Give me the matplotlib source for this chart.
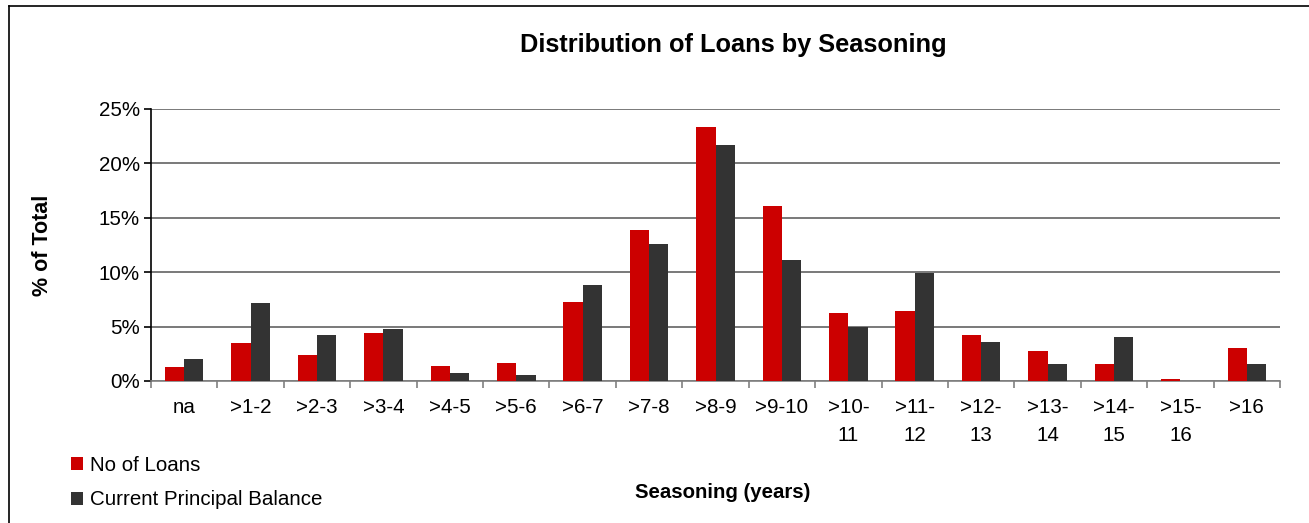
import numpy as np
import matplotlib.pyplot as plt
from matplotlib.ticker import PercentFormatter
from matplotlib.lines import Line2D

plt.rcParams['font.family'] = ['Liberation Sans', 'DejaVu Sans']

categories = ["na", ">1-2", ">2-3", ">3-4", ">4-5", ">5-6", ">6-7", ">7-8", ">8-9",
              ">9-10", ">10-\n11", ">11-\n12", ">12-\n13", ">13-\n14", ">14-\n15",
              ">15-\n16", ">16"]
no_of_loans = [1.29, 3.49, 2.39, 4.41, 1.38, 1.65, 7.26, 13.88, 23.35,
               16.08, 6.25, 6.43, 4.23, 2.76, 1.56, 0.18, 3.03]
principal_balance = [2.02, 7.17, 4.23, 4.78, 0.74, 0.55, 8.82, 12.59, 21.69,
                     11.12, 4.96, 9.93, 3.58, 1.56, 4.04, 0.03, 1.56]

W, H = 1309, 523
fig = plt.figure(figsize=(W / 100, H / 100), dpi=100)
ax = fig.add_axes([151 / W, 1 - 381 / H, 1129 / W, 272 / H])

x = np.arange(len(categories))
bw = 0.29
ax.bar(x - bw / 2, no_of_loans, bw, color='#cc0000', label='No of Loans', zorder=3)
ax.bar(x + bw / 2, principal_balance, bw, color='#333333', label='Current Principal Balance', zorder=3)

ax.set_xlim(-0.5, len(categories) - 0.5)
ax.set_ylim(0, 25)
ax.set_yticks(np.arange(0, 26, 5))
ax.yaxis.set_major_formatter(PercentFormatter(decimals=0))
ax.yaxis.grid(True, color='#6e6e6e', linewidth=1.3, zorder=0)

ax.set_xticks(x)
ax.set_xticklabels(categories, fontsize=14.8, linespacing=1.6, va='top')
ax.set_xticks(np.arange(-0.5, len(categories), 1), minor=True)
ax.tick_params(axis='x', which='major', length=0, pad=12)
ax.tick_params(axis='x', which='minor', length=5, color='#808080', width=1.2)
ax.tick_params(axis='y', labelsize=14.8, length=5, width=1.2, pad=3)

for s in ['top', 'right']:
    ax.spines[s].set_visible(False)
ax.spines['left'].set_linewidth(1.2)
ax.spines['bottom'].set_color('#808080')
ax.spines['bottom'].set_linewidth(1.2)

fig.text(733 / W, 1 - 45 / H, "Distribution of Loans by Seasoning", ha='center', va='center',
         fontsize=18.3, fontweight='bold')
fig.text(723 / W, 1 - 493 / H, "Seasoning (years)", ha='center', va='center',
         fontsize=14.7, fontweight='bold')
fig.text(43 / W, 1 - 245 / H, "% of Total", ha='center', va='center', rotation=90,
         fontsize=15.5, fontweight='bold')

fig.legend(loc='upper left', bbox_to_anchor=(71 / W, 1 - 456 / H), frameon=False,
           fontsize=14.8, handlelength=0.6, handleheight=0.6, handletextpad=0.3,
           labelspacing=0.75, borderaxespad=0, borderpad=0)

fig.add_artist(Line2D([9 / W, 9 / W], [0, 1 - 6 / H], transform=fig.transFigure,
                      color='black', linewidth=1.2))
fig.add_artist(Line2D([9 / W, 1], [1 - 6 / H, 1 - 6 / H], transform=fig.transFigure,
                      color='black', linewidth=1.2))

fig.savefig('out.png', dpi=100)
